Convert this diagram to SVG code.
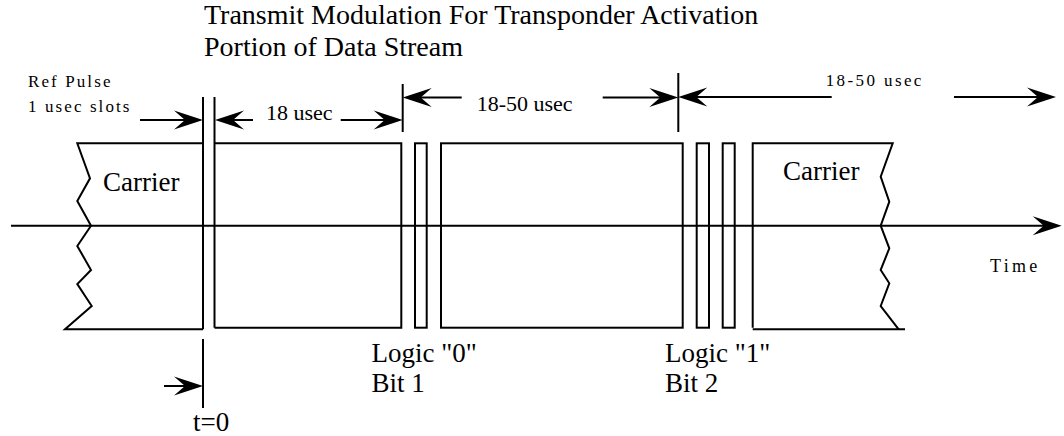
<svg xmlns="http://www.w3.org/2000/svg" width="1064" height="436" viewBox="0 0 1064 436">
<defs>
<style>
.ln{fill:none;stroke:#000;stroke-width:2;stroke-linejoin:miter}
.ar{fill:none;stroke:#000;stroke-width:2;marker-end:url(#ah)}
.t{font-family:"Liberation Serif","Times New Roman",serif;fill:#000}
.big{font-size:27px}
.ttl{font-size:28px}
.mid{font-size:22px}
.sm{font-size:17px;letter-spacing:2.1px}
</style>
<marker id="ah" markerUnits="userSpaceOnUse" markerWidth="32" markerHeight="22" refX="24" refY="10" orient="auto" overflow="visible">
<path d="M30,10 L1,0.5 L12,10 L1,19.5 Z" fill="#000"/>
</marker>
</defs>
<rect width="1064" height="436" fill="#fff"/>

<g id="title">
<text class="t ttl" x="204" y="24">Transmit Modulation For Transponder Activation</text>
<text class="t ttl" x="204" y="56">Portion of Data Stream</text>
</g>

<g id="carrier-left">
<path class="ln" d="M203,143.3 H77.3 L90,178.3 L77.3,201 L91,225.7 L77.3,246 L91,270 L77.3,284 L91.7,306 L65,329.3 H203"/>
<text class="t big" x="103" y="191">Carrier</text>
</g>

<g id="ref-pulse">
<line class="ln" x1="203" y1="97" x2="203" y2="329.3"/>
<line class="ln" x1="214.5" y1="97" x2="214.5" y2="327.7"/>
<text class="t sm" x="28" y="87">Ref Pulse</text>
<text class="t sm" x="28" y="112">1 usec slots</text>
</g>

<g id="pulse-18">
<path class="ln" d="M214.5,143.3 H401.3 V327.7 H214.5"/>
</g>

<g id="logic0-bit1">
<rect class="ln" x="415" y="143.3" width="11.7" height="184.4"/>
<text class="t big" x="371.5" y="361.7">Logic "0"</text>
<text class="t big" x="371.5" y="392">Bit 1</text>
</g>

<g id="pulse-18-50">
<rect class="ln" x="441" y="143.3" width="241.7" height="184.4"/>
</g>

<g id="logic1-bit2">
<rect class="ln" x="696.7" y="143.3" width="12.3" height="184.4"/>
<rect class="ln" x="722.7" y="143.3" width="12" height="184.4"/>
<text class="t big" x="665" y="361.7">Logic "1"</text>
<text class="t big" x="665" y="392">Bit 2</text>
</g>

<g id="carrier-right">
<path class="ln" d="M752.7,327.7 V143.3 H892.7 L880.7,176.7 L889.3,201.7 L880.7,225.7 L889.3,248.3 L880.7,270 L889.3,283.3 L880.7,306 L898.7,329.3"/>
<path class="ln" d="M752.7,329.3 H905"/>
<text class="t big" x="783" y="180">Carrier</text>
</g>

<g id="time-label">
<text class="t" x="990" y="272" font-size="18" letter-spacing="3.3">Time</text>
</g>

<g id="t0">
<line class="ln" x1="203" y1="339" x2="203" y2="408"/>
<text class="t" x="193" y="431" font-size="27">t=0</text>
</g>

<g id="connectors">
<path class="ar" d="M11,225.7 H1055.7"/>
<path class="ar" d="M140,120 H197"/>
<path class="ar" d="M253,120 H221"/>
<path class="ar" d="M340.7,120 H396.7"/>
<line class="ln" x1="402.7" y1="84" x2="402.7" y2="132"/>
<path class="ar" d="M461.7,97.5 H408.7"/>
<path class="ar" d="M602.7,97.5 H672.3"/>
<line class="ln" x1="678.3" y1="73" x2="678.3" y2="132"/>
<path class="ar" d="M831.7,97 H684.3"/>
<path class="ar" d="M954,97 H1050"/>
<path class="ar" d="M164,386 H197"/>
<text class="t mid" x="266" y="120">18 usec</text>
<text class="t mid" x="476.7" y="110.7">18-50 usec</text>
<text class="t" x="825.7" y="86" font-size="17" letter-spacing="2.4">18-50 usec</text>
</g>
</svg>
